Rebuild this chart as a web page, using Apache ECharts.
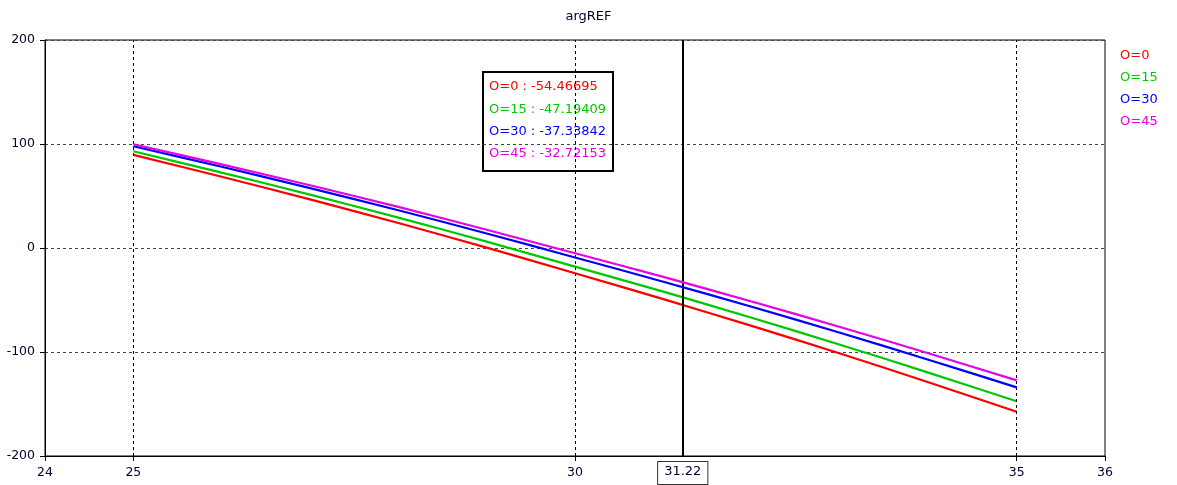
<!DOCTYPE html>
<html>
<head>
<meta charset="utf-8">
<script src="https://cdn.jsdelivr.net/npm/echarts@6/dist/echarts.min.js"></script>
<style>html,body{margin:0;padding:0;background:#fff;}#c{width:1177px;height:485px;}</style>
</head>
<body>
<div id="c"></div>
<script>
const titleText = 'argREF';
const xValues = [25, 26, 27, 28, 29, 30, 31, 32, 33, 34, 35];
const seriesNames = ['O=0', 'O=15', 'O=30', 'O=45'];
const seriesColors = ['#ff0000', '#00c800', '#0000ff', '#e600e6'];
const valuesO0  = [89.5, 68.5, 46.7, 24.0, 0.4, -24.3, -49.2, -74.9, -101.5, -129.1, -157.5];
const valuesO15 = [93.0, 72.5, 51.3, 29.2, 6.1, -17.9, -42.0, -67.0, -93.0, -119.8, -147.4];
const valuesO30 = [97.8, 78.1, 57.6, 36.3, 14.0, -9.1, -32.4, -56.5, -81.5, -107.4, -134.0];
const valuesO45 = [99.8, 80.4, 60.3, 39.5, 17.6, -5.1, -27.8, -51.5, -75.9, -101.2, -127.3];
const xTickValues = [24, 25, 30, 35, 36];
const xGridValues = [25, 30, 35];
const cursorX = 31.22;
const cursorLabel = '31.22';
const cursorValues = ['-54.46695', '-47.19409', '-37.33842', '-32.72153'];

const allValues = [valuesO0, valuesO15, valuesO30, valuesO45];
const FONT = '"DejaVu Sans", Verdana, sans-serif';
const TXT = '#000033';

const chart = echarts.init(document.getElementById('c'), null, {renderer: 'canvas'});

const series = seriesNames.map((n, i) => ({
  name: n,
  type: 'line',
  data: xValues.map((x, j) => [x, allValues[i][j]]),
  showSymbol: false,
  symbol: 'none',
  smooth: 0.3,
  lineStyle: {color: seriesColors[i], width: 2.2},
  itemStyle: {color: seriesColors[i]},
  z: 3 + i
}));

series.push({
  name: 'helper',
  type: 'line',
  data: [],
  clip: false,
  silent: true,
  markLine: {
    silent: true,
    symbol: ['none', 'none'],
    animation: false,
    data: xGridValues.map(v => [
      {coord: [v, -200], lineStyle: {color: '#000', type: [3, 3], width: 1}, label: {show: false}},
      {coord: [v, 200]}
    ]).concat([[
      {coord: [cursorX, -200], lineStyle: {color: '#000', type: 'solid', width: 2},
       label: {show: true, position: 'start', distance: 6, formatter: cursorLabel,
               color: TXT, fontFamily: FONT, fontSize: 13,
               backgroundColor: '#fff', borderColor: '#333', borderWidth: 1,
               padding: [3, 6, 6, 6]}},
      {coord: [cursorX, 200]}
    ]])
  },
  z: 10
});

const lineGap = 22.2;
const graphicChildren = [
  {type: 'rect', shape: {x: 0, y: 0, width: 130, height: 99},
   style: {fill: '#fff', stroke: '#000', lineWidth: 2}}
].concat(seriesNames.map((n, i) => ({
  type: 'text',
  x: 6, y: 15 + i * lineGap,
  style: {text: n + ' : ' + cursorValues[i], fill: seriesColors[i],
          font: '13px ' + FONT, textVerticalAlign: 'middle', textAlign: 'left'}
})));

chart.setOption({
  animation: false,
  backgroundColor: '#fff',
  title: {
    text: titleText, left: 'center', top: 10, padding: 0,
    textStyle: {fontFamily: FONT, fontSize: 13, fontWeight: 'normal', color: TXT}
  },
  legend: {
    orient: 'vertical', left: 1110, top: 44,
    icon: 'rect', itemWidth: 0, itemHeight: 12, itemGap: 9,
    selectedMode: false,
    data: seriesNames.map((n, i) => ({name: n, textStyle: {color: seriesColors[i]}})),
    textStyle: {fontFamily: FONT, fontSize: 13}
  },
  grid: {
    left: 45, right: 72, top: 40, bottom: 29,
    show: true, borderColor: '#000', borderWidth: 1,
    containLabel: false, outerBoundsMode: 'none'
  },
  xAxis: {
    type: 'value', min: 24, max: 36, interval: 1,
    axisLine: {show: true, onZero: false, lineStyle: {color: '#000', width: 1}},
    axisTick: {show: true, length: 5, customValues: xTickValues, lineStyle: {color: '#000'}},
    axisLabel: {customValues: xTickValues, margin: 10, color: TXT, fontFamily: FONT, fontSize: 12.5},
    splitLine: {show: false}
  },
  yAxis: {
    type: 'value', min: -200, max: 200, interval: 100,
    axisLine: {show: true, onZero: false, lineStyle: {color: '#000', width: 1}},
    axisTick: {show: true, length: 5, lineStyle: {color: '#000'}},
    axisLabel: {margin: 10, color: TXT, fontFamily: FONT, fontSize: 12.5},
    splitLine: {show: true, lineStyle: {color: '#444', type: [3, 3], width: 1}}
  },
  graphic: [{type: 'group', x: 483, y: 72, z: 100, children: graphicChildren}],
  series: series
});
</script>
</body>
</html>
